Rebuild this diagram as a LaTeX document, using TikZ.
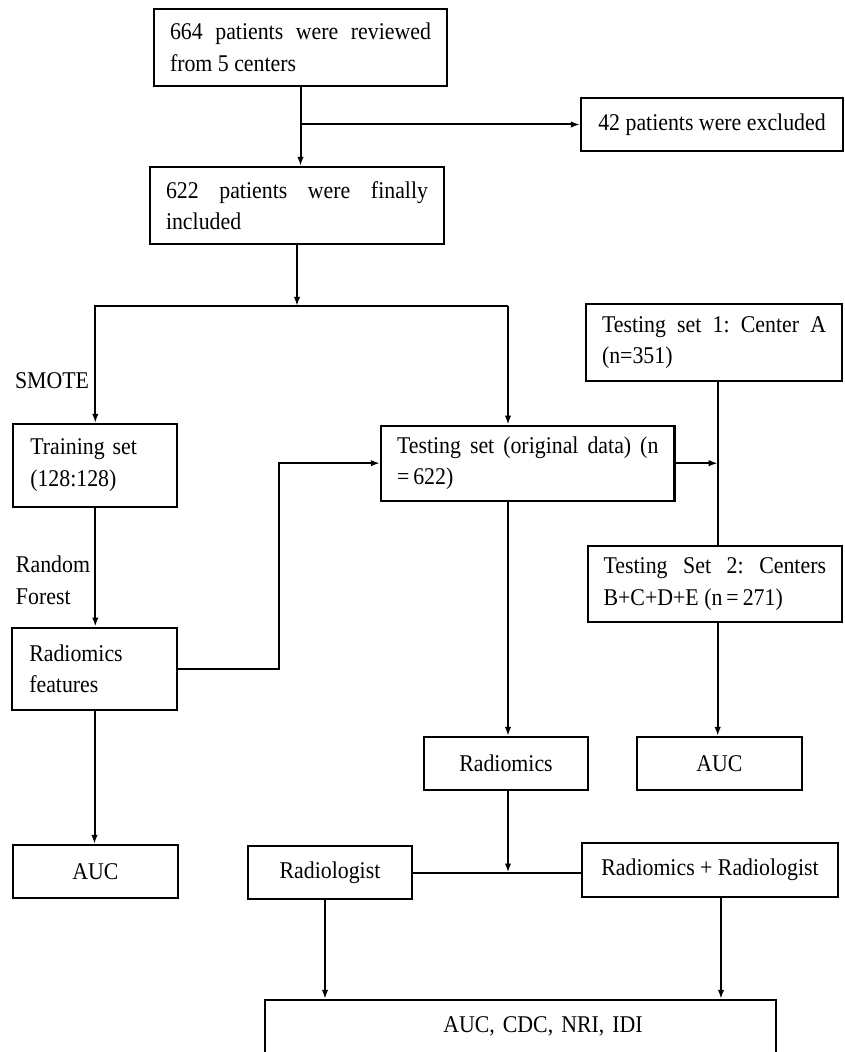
\documentclass[tikz,border=0pt]{standalone}
\usepackage{fontspec}
\setmainfont{Liberation Serif}[FakeStretch=0.91]
\usetikzlibrary{arrows.meta}
\frenchspacing
\hyphenpenalty=10000
\tolerance=9999

\begin{document}
\begin{tikzpicture}[x=0.5pt,y=-0.5pt,line width=1pt,>={Latex[length=4.5pt,width=3.2pt]},
    font=\fontsize{12}{15.8}\selectfont]

        \useasboundingbox (0,0) rectangle (844,1052);

        \begin{scope}[every node/.style={draw,rectangle,line width=1.1pt,inner xsep=8pt,inner ysep=0pt}]
          \node[text width=130.5pt,align=justify,minimum height=38.5pt] (reviewed) at (300.5,47.5) {664 patients were reviewed from 5 centers};
          \node[minimum width=131pt,minimum height=26.5pt] (excluded) at (712,124.5) {42 patients were excluded};
          \node[text width=131pt,align=justify,minimum height=38.5pt] (included) at (297,205.5) {622 patients were finally included};
          \node[text width=65pt,inner xsep=8.5pt,align=left,minimum height=41.3pt] (training) at (95.3,465.3) {Training set\\(128:128)};
          \node[text width=130.7pt,align=justify,minimum height=37.5pt] (testing) at (527.7,463.2) {Testing set (original data) (n \mbox{=\,622)}};
          \node[text width=112pt,align=justify,minimum height=38.5pt] (setA) at (714,342.5) {Testing set 1: Center A (n=351)};
          \node[text width=111.2pt,align=justify,minimum height=37.9pt] (setB) at (714.8,584) {Testing Set 2: Centers B+C+D+E (n\,=\,271)};
          \node[text width=65.2pt,inner xsep=8.5pt,align=left,minimum height=41.2pt] (features) at (94.5,668.9) {Radiomics\\features};
          \node[minimum width=82pt,minimum height=26.5pt] (radiomics) at (506,763.5) {Radiomics};
          \node[minimum width=82.5pt,minimum height=26.5pt] (aucB) at (719.5,763.5) {AUC};
          \node[minimum width=82.5pt,minimum height=26.5pt] (aucA) at (95.5,871.5) {AUC};
          \node[minimum width=82pt,minimum height=26.5pt] (radiologist) at (330,872.5) {Radiologist};
          \node[minimum width=128pt,minimum height=27pt] (combined) at (710,870) {Radiomics + Radiologist};
          \node[text width=239.5pt,align=center,text depth=6.5pt,minimum height=31pt] (metrics) at (520.5,1031) {\hspace*{22.5pt}AUC, CDC, NRI, IDI};
        \end{scope}

        \begin{scope}[every node/.style={anchor=west,inner sep=0pt}]
          \node (smote)  at (14,380.7) {SMOTE};
          \node (random) at (15,564)   {Random};
          \node (forest) at (15,596.7) {Forest};
        \end{scope}

        \coordinate (right) at (508,306);
        \coordinate (vline) at (717.7,0);
        \coordinate (bend)  at (278.6,0);

        \draw[->] (reviewed.south) -- (reviewed.south |- included.north);
        \draw[->] (reviewed.south |- excluded.west) -- (excluded.west);
        \draw[->] (included.south) -- (included.south |- right);
        \draw[->] (right) -| (training.north);
        \draw[->] (right) -- (right |- testing.north);
        \draw[->] (training.south) -- (training.south |- features.north);
        \draw[->] (features.south) -- (features.south |- aucA.north);
        \draw[->] (features.east) -| (bend |- testing.west) -- (testing.west);
        \draw[->] (testing.east) -- (testing.east -| vline);
        \draw (vline |- setA.south) -- (vline |- setB.north);
        \draw[->] (vline |- setB.south) -- (vline |- aucB.north);
        \draw[->] (right |- testing.south) -- (right |- radiomics.north);
        \draw[->] (right |- radiomics.south) -- (right |- radiologist.east);
        \draw (radiologist.east) -- (radiologist.east -| combined.west);
        \draw[->] ([xshift=-2.5pt]radiologist.south) -- ([xshift=-2.5pt]radiologist.south |- metrics.north);
        \draw[->] ([xshift=5.5pt]combined.south) -- ([xshift=5.5pt]combined.south |- metrics.north);

      \end{tikzpicture}
\end{document}
